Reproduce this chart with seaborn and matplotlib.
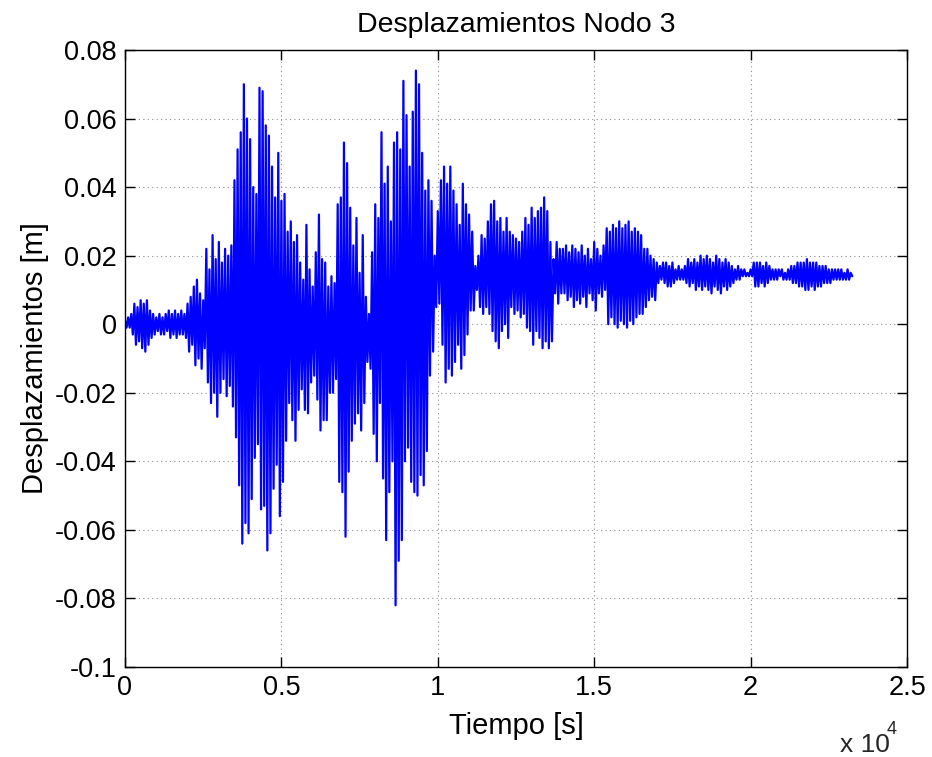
import numpy as np
import pandas as pd
import matplotlib
matplotlib.use("Agg")
import matplotlib.pyplot as plt
import seaborn as sns
from matplotlib.ticker import FixedLocator, FixedFormatter

# sampling step (s) between successive upper peaks
step = 100

# upper peaks (mm) read every 100 s, starting at t = 0
upper_mm = [
    1, 2, 3, 6, 5, 7, 6, 7, 4, 3,
    2, 3, 2, 3, 4, 3, 4, 3, 4, 3,
    6, 8, 11, 13, 9, 7, 22, 16, 26, 19,
    24, 18, 22, 20, 23, 42, 51, 56, 70, 60,
    54, 40, 38, 69, 68, 58, 55, 46, 37, 50,
    36, 38, 27, 30, 24, 26, 18, 13, 29, 16,
    11, 21, 32, 19, 18, 11, 14, 12, 35, 37,
    53, 47, 34, 23, 31, 15, 26, 8, 3, 21,
    35, 31, 56, 41, 46, 30, 53, 56, 51, 71,
    61, 46, 62, 74, 70, 50, 39, 42, 36, 20,
    33, 42, 46, 41, 46, 39, 35, 29, 41, 35,
    32, 27, 17, 20, 26, 25, 30, 35, 36, 30,
    31, 27, 31, 27, 26, 25, 24, 27, 31, 29,
    34, 31, 33, 34, 37, 33, 24, 19, 24, 22,
    22, 23, 21, 23, 22, 21, 23, 20, 22, 19,
    24, 22, 20, 23, 28, 27, 29, 28, 30, 28,
    29, 30, 27, 28, 27, 26, 22, 22, 20, 19,
    18, 17, 18, 18, 17, 18, 16, 17, 16, 17,
    19, 18, 19, 18, 20, 19, 20, 19, 18, 20,
    19, 18, 19, 18, 17, 16, 17, 16, 16, 15,
    16, 18, 18, 18, 17, 18, 17, 16, 16, 16,
    16, 15, 16, 17, 17, 18, 18, 18, 19, 18,
    18, 18, 17, 17, 17, 16, 16, 16, 16, 16,
    15, 16, 15,
]

# lower peaks (mm) read every 100 s, starting at t = 50
lower_mm = [
    -1, -1, -3, -6, -5, -7, -8, -6, -4, -3,
    -2, -3, -3, -2, -4, -3, -4, -3, -3, -4,
    -8, -6, -12, -10, -13, -7, -17, -23, -20, -27,
    -20, -16, -21, -18, -24, -33, -47, -64, -58, -61,
    -51, -39, -35, -54, -53, -66, -61, -48, -41, -56,
    -46, -34, -23, -28, -34, -25, -19, -25, -26, -17,
    -15, -22, -31, -28, -28, -20, -20, -16, -46, -49,
    -62, -43, -34, -29, -26, -31, -23, -11, -13, -32,
    -40, -23, -45, -63, -49, -40, -82, -69, -63, -40,
    -36, -46, -49, -50, -44, -47, -37, -15, -8, 5,
    6, -6, -17, -13, -15, -11, -6, -13, -9, -3,
    4, 4, 10, 5, 3, 5, 3, -2, -5, -7,
    -2, 0, -4, 5, 3, 4, 2, 3, -1, -2,
    -6, -2, -4, -7, -5, -7, -5, 9, 6, 9,
    9, 7, 8, 5, 7, 6, 8, 5, 9, 7,
    4, 9, 8, 10, 0, 2, 0, -1, 1, 0,
    -1, 1, 0, 2, 3, 3, 5, 7, 8, 7,
    12, 13, 12, 11, 11, 12, 13, 13, 13, 12,
    11, 12, 10, 11, 10, 11, 10, 9, 11, 10,
    9, 11, 10, 11, 12, 13, 13, 14, 14, 14,
    14, 11, 11, 12, 11, 12, 13, 13, 13, 14,
    13, 13, 13, 12, 12, 11, 11, 10, 10, 11,
    10, 11, 11, 12, 12, 12, 13, 13, 13, 13,
    13, 13, 14,
]

x_ticks = [0, 5000, 10000, 15000, 20000, 25000]
x_tick_labels = ["0", "0.5", "1", "1.5", "2", "2.5"]
y_ticks = [0.08, 0.06, 0.04, 0.02, 0.0, -0.02, -0.04, -0.06, -0.08, -0.1]
y_tick_labels = ["0.08", "0.06", "0.04", "0.02", "0", "-0.02", "-0.04", "-0.06", "-0.08", "-0.1"]

title_text = "Desplazamientos Nodo 3"
x_label = "Tiempo [s]"
y_label = "Desplazamientos [m]"

# build the displacement series: upper and lower peaks interleaved
n = len(upper_mm)
t_up = np.arange(n) * step
t = np.empty(2 * n)
y = np.empty(2 * n)
t[0::2] = t_up
t[1::2] = t_up + step / 2
y[0::2] = np.array(upper_mm) / 1000.0
y[1::2] = np.array(lower_mm) / 1000.0
df = pd.DataFrame({"t": t, "y": y})

sns.set_theme(style="ticks")
plt.rcParams["font.family"] = ["Liberation Sans", "DejaVu Sans"]
plt.rcParams["axes.unicode_minus"] = False

fig = plt.figure(figsize=(9.32, 7.57), dpi=100)
ax = fig.add_axes([125 / 932, 1 - 667 / 757, (907 - 125) / 932, (667 - 50) / 757])

sns.lineplot(data=df, x="t", y="y", ax=ax, color="#0000ff", lw=1.6,
             estimator=None, sort=False)

ax.set_xlim(0, 25000)
ax.set_ylim(-0.1, 0.08)
ax.xaxis.set_major_locator(FixedLocator(x_ticks))
ax.xaxis.set_major_formatter(FixedFormatter(x_tick_labels))
ax.yaxis.set_major_locator(FixedLocator(y_ticks))
ax.yaxis.set_major_formatter(FixedFormatter(y_tick_labels))

ax.grid(True, linestyle=(0, (1, 3)), color="0.55", lw=0.8)
ax.set_axisbelow(True)
ax.tick_params(direction="in", length=7, width=1, top=True, right=True,
               labelsize=19.5, colors="black", pad=6)
for s in ax.spines.values():
    s.set_color("black")
    s.set_linewidth(1.0)
    s.set_visible(True)

ax.set_title(title_text, fontsize=20.5, pad=13, color="black")
ax.set_xlabel(x_label, fontsize=21, labelpad=8, color="black")
ax.set_ylabel(y_label, fontsize=21, labelpad=4, color="black")

fig.text(840 / 932, 1 - 745 / 757, "x 10", fontsize=19, ha="left", va="center")
fig.text(887 / 932, 1 - 729 / 757, "4", fontsize=13, ha="left", va="center")

fig.savefig("out.png", dpi=100, facecolor="white")
